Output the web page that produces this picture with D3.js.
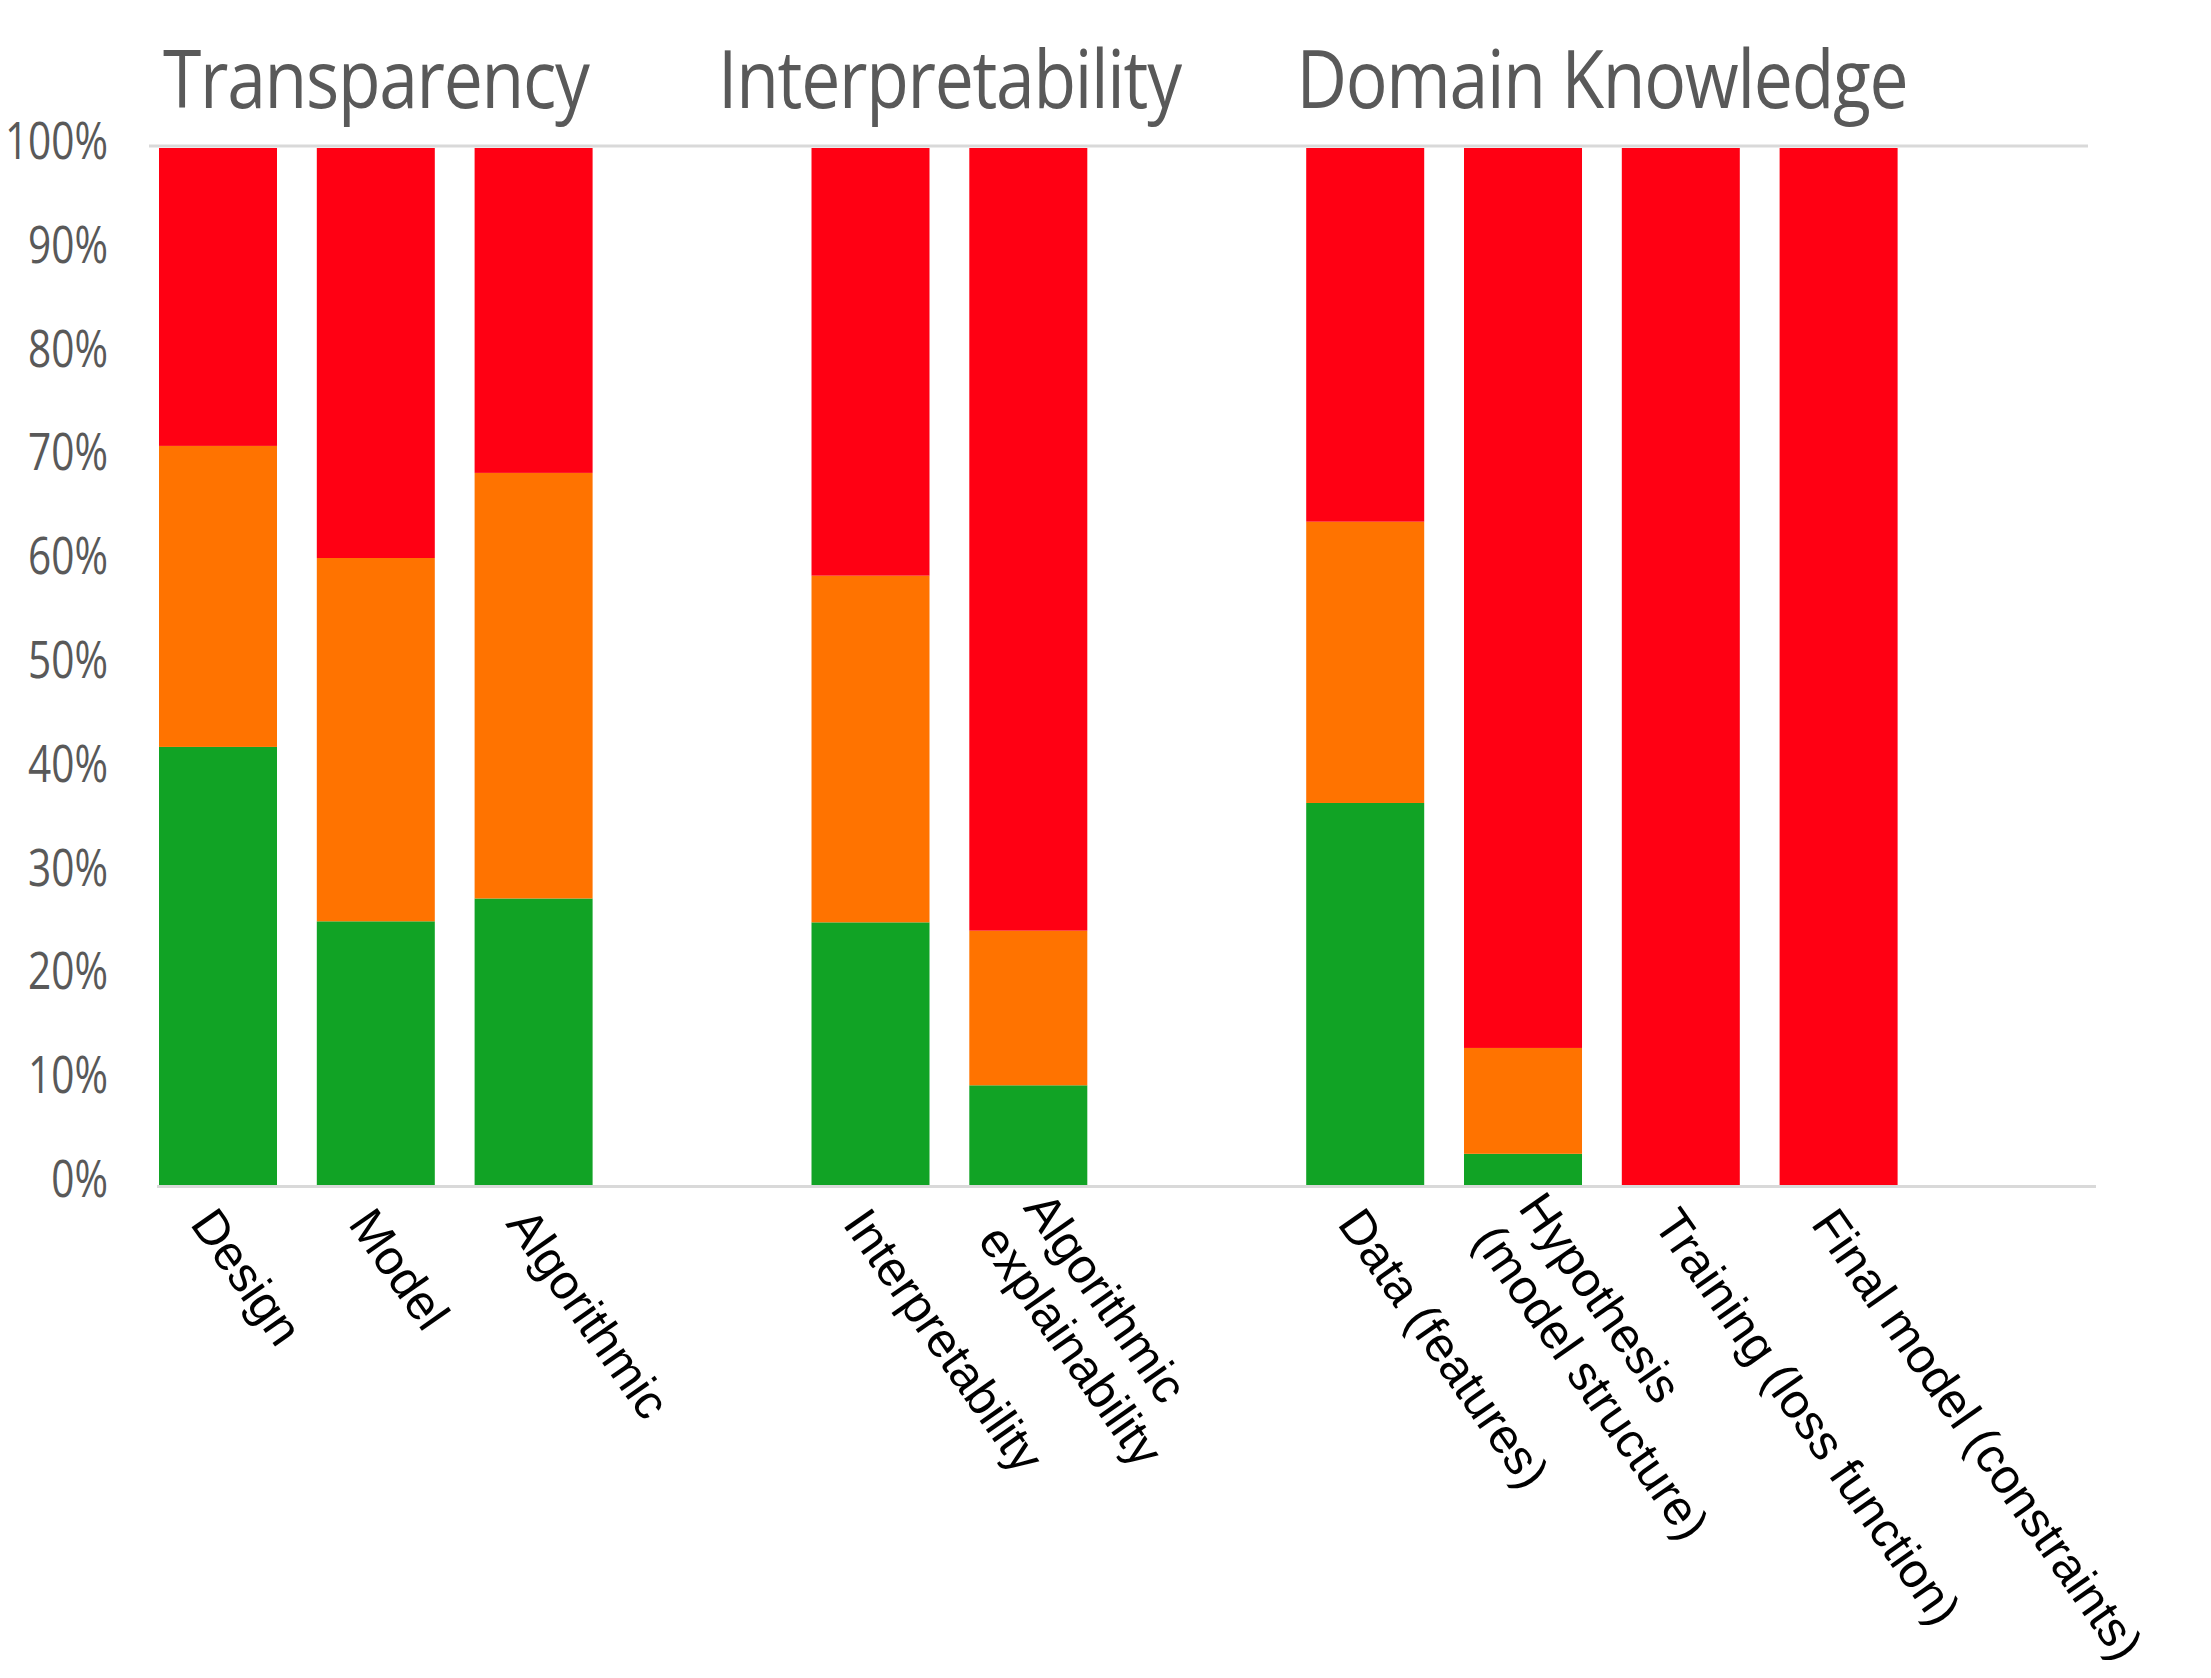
<!DOCTYPE html>
<html>
<head>
<meta charset="utf-8">
<script src="https://cdn.jsdelivr.net/npm/d3@7"></script>
<style>
  body { margin: 0; background: #fff; }
  svg { display: block; }
</style>
</head>
<body>
<script>
// Datos: tres grupos, nueve categorías, tres series apiladas.
var groups = ['Transparency', 'Interpretability', 'Domain Knowledge'];
var categories = ['Design', 'Model', 'Algorithmic',
                  'Interpretability', 'Algorithmic\nexplainability',
                  'Data (features)', 'Hypothesis\n(model structure)',
                  'Training (loss function)', 'Final model (constraints)'];
var categoryGroup = [0, 0, 0, 1, 1, 2, 2, 2, 2];

var greenValues  = [0.423, 0.255, 0.277, 0.254, 0.097, 0.369, 0.031, 0, 0];
var orangeValues = [0.290, 0.350, 0.410, 0.334, 0.149, 0.271, 0.102, 0, 0];
var redValues    = [0.287, 0.395, 0.313, 0.412, 0.754, 0.360, 0.867, 1, 1];

var yTicks      = [0, 0.1, 0.2, 0.3, 0.4, 0.5, 0.6, 0.7, 0.8, 0.9, 1];
var yTickLabels = ['0%', '10%', '20%', '30%', '40%', '50%', '60%', '70%', '80%', '90%', '100%'];

var WIDTH  = 2211;
var HEIGHT = 1678;

var colors = { green: '#11a325', orange: '#ff7300', red: '#ff0013' };

var svg = d3.select('body')
            .append('svg')
            .attr('width', WIDTH)
            .attr('height', HEIGHT);

// Posición de cada categoría: índice de "ranura" con un hueco entre grupos.
var GROUP_GAP = 1.135;
var slots = categories.map(function(c, i) {
  return i + categoryGroup[i] * GROUP_GAP;
});

var x = d3.scaleLinear()
          .domain([0, 1])
          .range([218, 218 + 157.8]);   // centro de la barra por ranura
var BAR_W = 118;

var y = d3.scaleLinear()
          .domain([0, 1])
          .range([1186, 148]);

// Línea superior (100%)
svg.append('line')
   .attr('x1', 149).attr('x2', 2088)
   .attr('y1', y(1) - 2).attr('y2', y(1) - 2)
   .attr('stroke', '#d9d9d9')
   .attr('stroke-width', 3);

// Barras apiladas
var rows = categories.map(function(c, i) {
  return { cat: c, i: i, green: greenValues[i], orange: orangeValues[i], red: redValues[i] };
});
var stacked = d3.stack().keys(['green', 'orange', 'red'])(rows);

svg.append('g')
   .selectAll('g')
   .data(stacked)
   .enter()
 .append('g')
   .attr('fill', function(s) { return colors[s.key]; })
   .selectAll('rect')
   .data(function(s) { return s; })
   .enter()
 .append('rect')
   .attr('x', function(d) { return x(slots[d.data.i]) - BAR_W / 2; })
   .attr('width', BAR_W)
   .attr('y', function(d) { return y(d[1]); })
   .attr('height', function(d) { return Math.max(0, y(d[0]) - y(d[1])); });

// Eje inferior (0%)
svg.append('line')
   .attr('x1', 157).attr('x2', 2096)
   .attr('y1', y(0) + 0.5).attr('y2', y(0) + 0.5)
   .attr('stroke', '#d9d9d9')
   .attr('stroke-width', 3);

// Etiquetas del eje Y (fuente estrecha)
svg.append('g')
   .selectAll('text')
   .data(yTicks)
   .enter()
 .append('text')
   .attr('transform', function(d) { return 'translate(108,' + (y(d) + 11) + ') scale(0.78,1)'; })
   .attr('text-anchor', 'end')
   .attr('font-family', '"Open Sans", sans-serif')
   .attr('font-size', 52)
   .attr('fill', '#595959')
   .text(function(d, i) { return yTickLabels[i]; });

// Títulos de grupo, centrados sobre sus barras
groups.forEach(function(g, gi) {
  var idx = d3.range(categories.length).filter(function(i) { return categoryGroup[i] === gi; });
  var cx = (x(slots[idx[0]]) + x(slots[idx[idx.length - 1]])) / 2;
  svg.append('text')
     .attr('transform', 'translate(' + cx + ',108) scale(0.86,1)')
     .attr('text-anchor', 'middle')
     .attr('font-family', '"Open Sans", sans-serif')
     .attr('font-size', 81)
     .attr('letter-spacing', -1.5)
     .attr('fill', '#595959')
     .text(g);
});

// Etiquetas del eje X, giradas 55 grados
var LINE_H = 56;
var CAP = 35;
var labels = svg.append('g')
   .selectAll('g')
   .data(categories)
   .enter()
 .append('g')
   .attr('transform', function(c, i) { return 'translate(' + x(slots[i]) + ',1204) rotate(55)'; });

labels.append('text')
   .attr('font-family', '"Liberation Sans", Arial, sans-serif')
   .attr('font-size', 49)
   .attr('fill', '#000')
   .each(function(c) {
     var lines = c.split('\n');
     var t = d3.select(this);
     lines.forEach(function(line, k) {
       t.append('tspan')
        .attr('x', 0)
        .attr('y', CAP - (lines.length - 1) * LINE_H / 2 + k * LINE_H)
        .text(line);
     });
   });
</script>
</body>
</html>
